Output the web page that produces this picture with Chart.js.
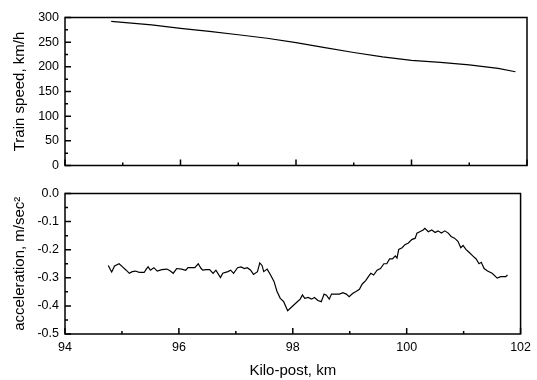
<!DOCTYPE html>
<html><head><meta charset="utf-8">
<script src="https://cdn.jsdelivr.net/npm/chart.js@4/dist/chart.umd.min.js"></script>
<style>
html,body{margin:0;padding:0;background:#fff;width:537px;height:380px;overflow:hidden}
#c1{position:absolute;left:0;top:0}
#c2{position:absolute;left:0;top:180px}
</style>
</head><body>
<canvas id="c1" width="537" height="180"></canvas>
<canvas id="c2" width="537" height="200"></canvas>
<script>
// ---- data ----
const speedKm = [94.8, 95.5, 96.0, 96.5, 97.0, 97.5, 98.0, 98.5, 99.0, 99.5, 100.0, 100.5, 101.0, 101.5, 101.8];
const speedKmh = [292, 285, 278, 272, 265, 258, 249, 239, 229, 220, 213, 209, 204, 197, 190];

const accelKm = [94.76,94.80,94.82,94.87,94.95,95.01,95.07,95.13,95.18,95.24,95.29,95.33,95.39,95.43,95.46,95.50,95.56,95.62,95.70,95.79,95.85,95.90,95.96,96.05,96.12,96.16,96.28,96.34,96.39,96.42,96.48,96.54,96.60,96.65,96.73,96.77,96.86,96.91,96.96,97.03,97.09,97.15,97.20,97.26,97.31,97.38,97.42,97.46,97.49,97.55,97.61,97.67,97.72,97.78,97.84,97.91,97.98,98.07,98.13,98.17,98.21,98.27,98.33,98.38,98.44,98.50,98.55,98.59,98.64,98.68,98.76,98.82,98.88,98.94,98.99,99.05,99.11,99.17,99.22,99.28,99.34,99.37,99.42,99.48,99.54,99.60,99.65,99.70,99.75,99.80,99.83,99.86,99.92,99.97,100.03,100.09,100.15,100.18,100.23,100.29,100.32,100.38,100.44,100.50,100.55,100.61,100.67,100.73,100.78,100.84,100.90,100.95,100.99,101.04,101.10,101.16,101.22,101.27,101.31,101.36,101.42,101.50,101.59,101.65,101.74,101.77];
const accelMs2 = [-0.256,-0.272,-0.279,-0.258,-0.250,-0.261,-0.272,-0.284,-0.278,-0.276,-0.280,-0.281,-0.281,-0.268,-0.261,-0.273,-0.264,-0.276,-0.271,-0.269,-0.276,-0.284,-0.267,-0.269,-0.273,-0.264,-0.264,-0.250,-0.267,-0.273,-0.271,-0.271,-0.284,-0.273,-0.299,-0.284,-0.278,-0.273,-0.284,-0.264,-0.261,-0.267,-0.264,-0.273,-0.288,-0.278,-0.247,-0.256,-0.278,-0.269,-0.290,-0.313,-0.347,-0.373,-0.385,-0.417,-0.404,-0.387,-0.376,-0.361,-0.373,-0.370,-0.376,-0.370,-0.381,-0.385,-0.358,-0.362,-0.376,-0.358,-0.358,-0.358,-0.353,-0.358,-0.367,-0.356,-0.349,-0.341,-0.322,-0.310,-0.292,-0.284,-0.290,-0.273,-0.267,-0.250,-0.250,-0.233,-0.233,-0.222,-0.230,-0.199,-0.193,-0.182,-0.176,-0.164,-0.159,-0.141,-0.136,-0.130,-0.124,-0.136,-0.130,-0.139,-0.133,-0.141,-0.133,-0.141,-0.153,-0.159,-0.170,-0.193,-0.185,-0.199,-0.210,-0.222,-0.233,-0.250,-0.245,-0.267,-0.276,-0.284,-0.301,-0.296,-0.296,-0.290];

const xMajorTicks = [94, 96, 98, 100, 102];
const xMinorTicks = [95, 97, 99, 101];
const speedMajorTicks = [0, 50, 100, 150, 200, 250, 300];
const speedMinorTicks = [25, 75, 125, 175, 225, 275];
const accelMajorTicks = [-0.5, -0.4, -0.3, -0.2, -0.1, 0.0];
const accelMinorTicks = [-0.45, -0.35, -0.25, -0.15, -0.05];

const FONT = "'Liberation Sans', Arial, sans-serif";

function framePlugin(yMaj, yMin) {
  return {
    id: 'frameTicks',
    afterDraw(chart) {
      const ctx = chart.ctx, a = chart.chartArea;
      const xs = chart.scales.x, ys = chart.scales.y;
      ctx.save();
      ctx.strokeStyle = '#000';
      ctx.lineWidth = 1.5;
      ctx.strokeRect(a.left, a.top, a.right - a.left, a.bottom - a.top);
      ctx.lineWidth = 1.5;
      ctx.beginPath();
      xMajorTicks.forEach(v => { const p = xs.getPixelForValue(v); ctx.moveTo(p, a.bottom); ctx.lineTo(p, a.bottom - 6); });
      xMinorTicks.forEach(v => { const p = xs.getPixelForValue(v); ctx.moveTo(p, a.bottom); ctx.lineTo(p, a.bottom - 3); });
      yMaj.forEach(v => { const p = ys.getPixelForValue(v); ctx.moveTo(a.left, p); ctx.lineTo(a.left + 6, p); });
      yMin.forEach(v => { const p = ys.getPixelForValue(v); ctx.moveTo(a.left, p); ctx.lineTo(a.left + 3, p); });
      ctx.stroke();
      ctx.restore();
    }
  };
}

function pts(xa, ya) { return xa.map((x, i) => ({ x: x, y: ya[i] })); }

const lineDs = (data) => ({
  data: data, borderColor: '#000', borderWidth: 1.2, pointRadius: 0,
  tension: 0, fill: false
});

new Chart(document.getElementById('c1'), {
  type: 'line',
  data: { datasets: [lineDs(pts(speedKm, speedKmh))] },
  options: {
    responsive: false, animation: false, devicePixelRatio: 1,
    layout: { padding: { left: 0, right: 10, top: 17.5, bottom: 14.5 } },
    plugins: { legend: { display: false }, tooltip: { enabled: false } },
    scales: {
      x: { type: 'linear', min: 94, max: 102, display: false },
      y: {
        min: 0, max: 300,
        afterBuildTicks(s) { s.ticks = speedMajorTicks.map(v => ({ value: v })); },
        afterFit(s) { s.width = 65; },
        grid: { display: false, drawTicks: false }, border: { display: false },
        ticks: { padding: 6, color: '#000', font: { family: FONT, size: 12.5 } },
        title: { display: true, text: 'Train speed, km/h', color: '#000',
          font: { family: FONT, size: 15 }, padding: { top: 11, bottom: 0 } }
      }
    }
  },
  plugins: [framePlugin(speedMajorTicks, speedMinorTicks)]
});

new Chart(document.getElementById('c2'), {
  type: 'line',
  data: { datasets: [lineDs(pts(accelKm, accelMs2))] },
  options: {
    responsive: false, animation: false, devicePixelRatio: 1,
    layout: { padding: { left: 0, right: 10, top: 7, bottom: 0 } },
    plugins: { legend: { display: false }, tooltip: { enabled: false } },
    scales: {
      x: {
        type: 'linear', min: 94, max: 102,
        afterBuildTicks(s) { s.ticks = xMajorTicks.map(v => ({ value: v })); },
        afterFit(s) { s.height = 46; },
        grid: { display: false, drawTicks: false }, border: { display: false },
        ticks: { padding: 6, color: '#000', maxRotation: 0, font: { family: FONT, size: 12.5 } },
        title: { display: true, text: 'Kilo-post, km', color: '#000',
          font: { family: FONT, size: 15 }, padding: { top: 4, bottom: 0 } }
      },
      y: {
        min: -0.5, max: 0,
        afterBuildTicks(s) { s.ticks = accelMajorTicks.map(v => ({ value: v })); },
        afterFit(s) { s.width = 65; },
        grid: { display: false, drawTicks: false }, border: { display: false },
        ticks: { padding: 6, color: '#000', font: { family: FONT, size: 12.5 },
          callback: v => Number(v).toFixed(1) },
        title: { display: true, text: 'acceleration, m/sec\u00B2', color: '#000',
          font: { family: FONT, size: 15 }, padding: { top: 11, bottom: 0 } }
      }
    }
  },
  plugins: [framePlugin(accelMajorTicks, accelMinorTicks)]
});
</script>
</body></html>
